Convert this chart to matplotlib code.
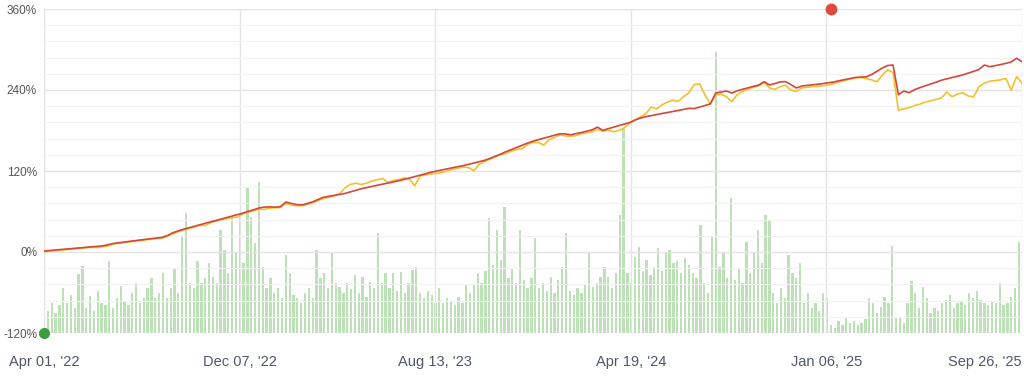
import numpy as np
import matplotlib
matplotlib.use("Agg")
import matplotlib.pyplot as plt
from matplotlib.ticker import MultipleLocator, FixedLocator, FuncFormatter

# ---------------- data ----------------
tick_labels = ["Apr 01, '22", "Dec 07, '22", "Aug 13, '23",
               "Apr 19, '24", "Jan 06, '25", "Sep 26, '25"]
n_sessions = 1274          # session index span of the x axis
line_step = 7              # one line sample every 7 sessions
bar_step = 5               # one bar every 5 sessions

red = [1.5, 2.2, 2.9, 3.6, 4.3, 5.1, 5.8, 6.5, 7.2, 7.9,
       8.6, 9.1, 11.0, 12.7, 13.8, 14.9, 15.9, 16.9, 17.9, 18.9,
       19.9, 20.8, 21.7, 24.5, 28.6, 31.3, 33.8, 36.0, 38.2, 40.3,
       42.5, 44.6, 46.8, 48.9, 51.0, 53.2, 55.3, 57.6, 60.2, 62.5,
       65.2, 66.5, 66.8, 66.4, 67.0, 74.0, 72.0, 70.3, 69.8, 71.8,
       74.3, 77.8, 81.0, 82.4, 83.8, 85.2, 86.7, 89.0, 91.3, 93.6,
       95.4, 97.1, 98.8, 100.4, 102.1, 103.8, 105.5, 107.5, 109.6, 111.7,
       113.8, 115.9, 118.2, 119.9, 121.5, 123.1, 124.7, 126.3, 128.0, 129.8,
       131.8, 133.8, 135.8, 138.7, 142.0, 145.1, 148.7, 151.8, 155.0, 158.2,
       161.4, 164.2, 166.4, 168.6, 170.8, 173.0, 175.2, 175.0, 173.6, 175.4,
       177.0, 178.9, 181.0, 185.0, 180.2, 182.7, 185.0, 187.3, 189.6, 191.8,
       195.5, 198.5, 200.4, 202.0, 203.6, 205.2, 206.6, 208.1, 209.6, 211.2,
       212.8, 212.4, 214.7, 217.0, 219.5, 235.5, 237.0, 238.5, 235.5, 238.8,
       241.0, 243.2, 245.4, 247.3, 252.3, 247.5, 249.5, 252.0, 252.5, 248.0,
       243.0, 245.8, 246.8, 247.6, 248.5, 249.6, 250.6, 251.9, 253.8, 255.4,
       257.0, 258.6, 259.0, 259.5, 262.8, 267.6, 272.5, 276.3, 277.0, 233.0,
       238.5, 236.0, 240.5, 243.5, 246.3, 248.8, 251.5, 254.5, 256.5, 258.5,
       260.5, 262.4, 265.0, 267.6, 270.5, 277.0, 274.5, 276.0, 277.6, 279.5,
       281.6, 287.0, 282.0]

yellow = [0.5, 1.0, 1.8, 2.5, 3.5, 4.0, 5.0, 5.5, 6.5, 7.0,
          6.5, 8.0, 9.0, 12.0, 13.0, 14.0, 15.0, 16.0, 17.0, 18.0,
          19.0, 19.8, 20.5, 23.5, 27.0, 30.0, 32.5, 35.0, 37.0, 39.5,
          39.0, 43.5, 45.5, 48.0, 49.5, 51.0, 51.5, 56.5, 59.0, 61.0,
          63.5, 63.0, 65.0, 65.5, 66.0, 72.0, 69.5, 68.5, 68.5, 70.5,
          73.0, 76.0, 79.5, 81.0, 83.0, 86.0, 95.0, 100.0, 102.0, 100.0,
          102.0, 105.0, 107.0, 109.0, 103.0, 106.0, 107.0, 110.0, 108.0, 98.0,
          112.6, 114.0, 115.5, 116.6, 117.5, 120.0, 122.5, 124.0, 126.0, 125.0,
          120.5, 130.0, 134.0, 137.5, 141.0, 144.0, 146.0, 149.5, 152.0, 153.0,
          159.5, 162.5, 162.0, 158.5, 166.0, 170.0, 173.5, 172.0, 171.5, 172.5,
          175.0, 176.5, 178.0, 182.0, 179.0, 180.0, 178.2, 180.0, 184.0, 190.7,
          196.0, 200.0, 205.0, 214.6, 212.0, 218.0, 222.0, 225.0, 223.0, 230.0,
          236.0, 248.0, 249.0, 232.6, 219.3, 232.6, 234.0, 230.0, 222.7, 233.0,
          238.0, 241.0, 244.0, 246.0, 251.0, 243.0, 241.0, 245.0, 247.0, 240.0,
          238.0, 243.0, 244.0, 245.0, 245.5, 246.5, 247.5, 249.5, 252.0, 254.0,
          256.0, 258.0, 258.5, 257.0, 255.0, 252.0, 262.0, 270.0, 266.0, 210.0,
          212.0, 214.0, 217.0, 219.0, 222.0, 224.0, 226.0, 228.0, 237.0, 230.0,
          234.0, 236.0, 231.0, 230.0, 245.0, 250.0, 253.0, 254.0, 255.0, 257.0,
          240.0, 260.0, 250.0]

volume = [18, 22, 30, 20, 28, 45, 30, 38, 25, 59, 67, 25, 37, 22, 42, 30, 28, 72,
          25, 35, 47, 32, 28, 40, 50, 30, 35, 45, 55, 35, 40, 60, 35, 45, 65, 40,
          97, 120, 50, 45, 72, 50, 55,
          70, 56, 50, 103, 83, 60, 116, 80, 116, 70, 145, 116, 90, 151, 66, 45,
          55, 40, 45, 35, 78, 60, 38, 35, 30, 40, 45, 35, 83, 55, 60, 45, 81, 50,
          46, 40, 50, 44, 58, 40, 56, 36,
          51, 45, 100, 50, 60, 45, 60, 42, 61, 40, 50, 63, 66, 40, 35, 42, 38, 30,
          45, 30, 35, 32, 28, 36, 30, 48, 40, 48, 60, 50, 62, 115, 68, 103, 73,
          126, 55, 65, 50, 103, 53, 45, 55,
          95, 45, 50, 42, 56, 40, 53, 66, 100, 42, 38, 45, 40, 48, 80, 46, 50, 56,
          66, 56, 45, 60, 118, 205, 60, 50, 76, 86, 62, 73, 58, 66, 85, 62, 80,
          83, 70, 72, 60, 75, 68, 60, 55,
          108, 50, 40, 96, 281, 66, 80, 55, 135, 53, 65, 50, 91, 60, 80, 103, 70,
          118, 113, 40, 30, 45, 35, 78, 60, 55, 70, 30, 40, 25, 30, 22, 40, 35, 8,
          5, 12, 8, 15, 10, 12, 8,
          10, 14, 35, 30, 20, 26, 36, 30, 87, 16, 16, 10, 30, 52, 40, 25, 46, 35,
          20, 25, 22, 30, 33, 38, 25, 30, 32, 28, 40, 35, 42, 33, 30, 28, 32, 30,
          50, 28, 30, 36, 45, 91]
volume_max = 324

high_marker = (1025, 360)
low_marker = (0, -120)

# ---------------- figure ----------------
plt.rcParams["font.family"] = ["Liberation Sans", "DejaVu Sans"]

fig = plt.figure(figsize=(10.24, 3.78), dpi=100)
fig.patch.set_facecolor("white")
ax = fig.add_axes([44 / 1024, 1 - 333 / 378, 978 / 1024, 324 / 378])
axb = ax.twinx()
ax.set_zorder(2)
axb.set_zorder(1)
ax.patch.set_visible(False)

x_line = np.arange(0, n_sessions + 1, line_step)
x_bar = np.arange(0, n_sessions + 1, bar_step)

axb.bar(x_bar, volume, width=3.0, color="#a3d69c", alpha=0.72,
        linewidth=0, align="center")
axb.set_ylim(0, volume_max)
axb.set_yticks([])
for s in axb.spines.values():
    s.set_visible(False)

ax.plot(x_line, yellow, color="#f2c12e", lw=1.2, zorder=3)
ax.plot(x_line, red, color="#d4473a", lw=1.2, zorder=4)
ax.plot(*high_marker, "o", color="#e0483a", ms=7.5, clip_on=False, zorder=6)
ax.plot(*low_marker, "o", color="#3c9e3c", ms=7, clip_on=False, zorder=6)

ax.set_xlim(0, n_sessions)
ax.set_ylim(-120, 360)
ax.xaxis.set_major_locator(FixedLocator(np.linspace(0, n_sessions, len(tick_labels))))
ax.set_xticklabels(tick_labels)
ax.yaxis.set_major_locator(MultipleLocator(120))
ax.yaxis.set_minor_locator(MultipleLocator(24))
ax.yaxis.set_major_formatter(FuncFormatter(lambda v, p: f"{v:.0f}%"))

ax.grid(True, which="major", axis="both", color="#e4e4e4", lw=1.0)
ax.grid(True, which="minor", axis="y", color="#f2f2f2", lw=0.8)
ax.tick_params(axis="y", which="both", length=0, pad=5,
               labelsize=8.5, labelcolor="#555555")
ax.tick_params(axis="x", length=0, pad=16, labelsize=10.5, labelcolor="#4f5869")
ax.get_xticklabels()[-1].set_horizontalalignment("right")
for s in ax.spines.values():
    s.set_visible(False)

fig.savefig("out.png", dpi=100, facecolor="white")
